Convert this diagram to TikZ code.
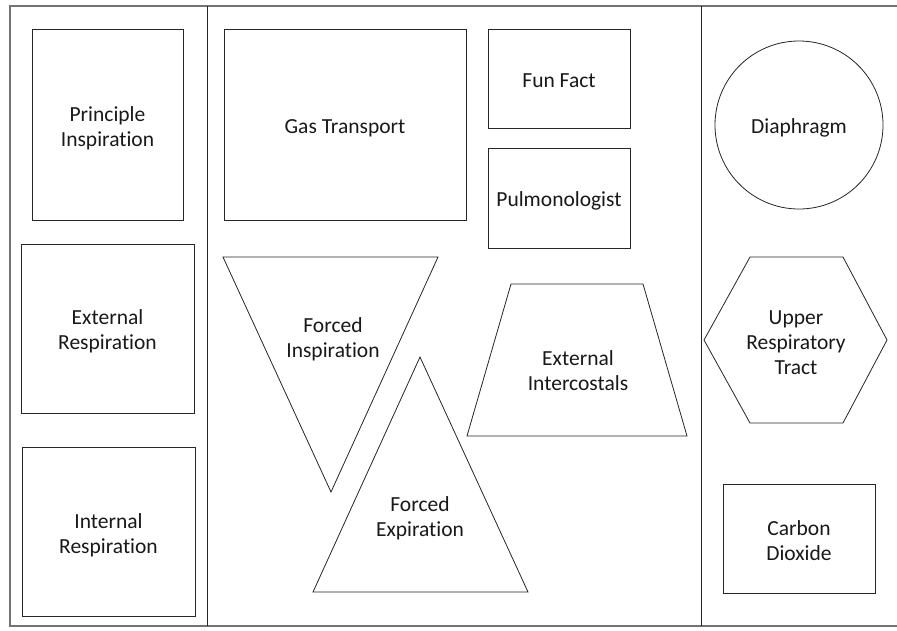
\documentclass[tikz,border=0pt]{standalone}
\usepackage{fontspec}
\setmainfont{Carlito}[Ligatures={NoCommon}]
\begin{document}
\begin{tikzpicture}[x=1pt,y=-1pt,
  shp/.style={draw=black!85, line width=0.8pt},
  frame/.style={draw=black!55, line width=1.4pt},
  divline/.style={draw=black!85, line width=0.9pt},
  lbl/.style={align=center, font=\fontsize{21.5}{25}\selectfont, text=black!90, inner sep=0pt}]
\useasboundingbox (0,0) rectangle (897,630);
\fill[white] (0,0) rectangle (897,630);
% frame and dividers
\draw[frame] (897,6) -- (10,6) -- (10,626) -- (897,626);
\draw[divline] (207,6) -- (207,626);
\draw[divline] (701,6) -- (701,626);
% left column
\draw[shp] (32,29) rectangle (183,220);
\node[lbl] (pi) at (107.5,128) {Principle\\Inspiration};
\draw[shp] (21,244) rectangle (194,413);
\node[lbl] (er) at (107.5,331) {External\\Respiration};
\draw[shp] (22,447) rectangle (195,616);
\node[lbl] (ir) at (108.5,535) {Internal\\Respiration};
% middle column
\draw[shp] (224,29) rectangle (466,220);
\node[lbl] (gt) at (345,128) {Gas Transport};
\draw[shp] (488,29) rectangle (630,128);
\node[lbl] (ff) at (559,81) {Fun Fact};
\draw[shp] (488,148) rectangle (630,248);
\node[lbl] (pu) at (559,201) {Pulmonologist};
\draw[shp] (223,257) -- (438,257) -- (331,492) -- cycle;
\node[lbl] (fi) at (333,339) {Forced\\Inspiration};
\draw[shp] (420,357) -- (528,592) -- (313,592) -- cycle;
\node[lbl] (fe) at (420,518) {Forced\\Expiration};
\draw[shp] (511,284) -- (643,284) -- (687,436) -- (467,436) -- cycle;
\node[lbl] (ei) at (578,371) {External\\Intercostals};
% right column
\draw[shp] (799,125) circle (84);
\node[lbl] (di) at (799,128) {Diaphragm};
\draw[shp] (704,340) -- (750,257) -- (843,257) -- (887,340) -- (843,423) -- (750,423) -- cycle;
\node[lbl] (ur) at (796,343) {Upper\\Respiratory\\Tract};
\draw[shp] (723,484) rectangle (875,593);
\node[lbl] (cd) at (799,541) {Carbon\\Dioxide};
\end{tikzpicture}
\end{document}
